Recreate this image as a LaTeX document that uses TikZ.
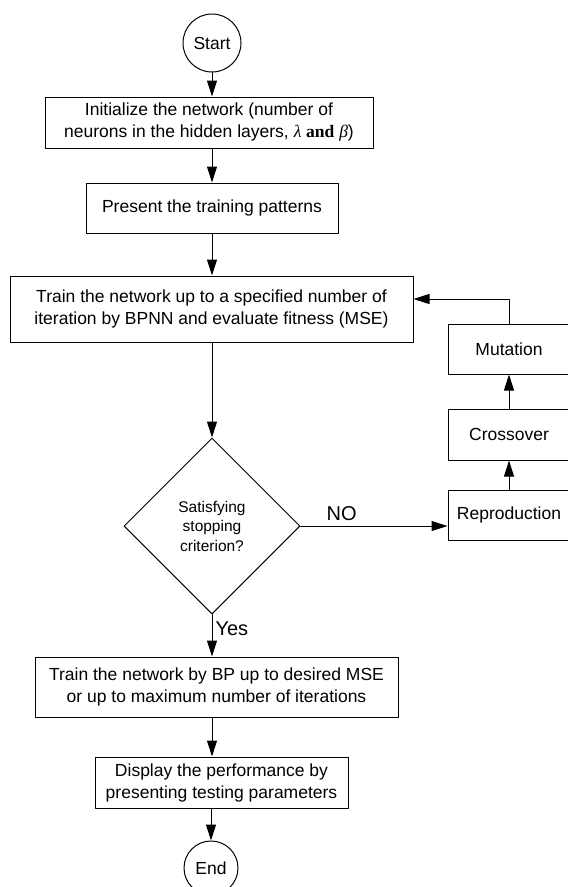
\documentclass[tikz,border=0pt]{standalone}
\usepackage{amsmath}
\usepackage{fontspec}
\setmainfont{Liberation Sans}
\newfontfamily\timesfont{Liberation Serif}
\usepackage{tikz}
\usetikzlibrary{arrows.meta,shapes.geometric,calc}

\begin{document}
\begin{tikzpicture}[line cap=round,line join=round,>={Triangle[length=16pt,width=10pt]},x=1pt,y=1pt,
  every node/.style={font=\fontsize{17.5}{22}\selectfont},
  procbox/.style={draw,line width=1pt,rectangle,align=center,inner sep=0pt},
  termnode/.style={draw,line width=1pt,circle,inner sep=0pt},
  decnode/.style={draw,line width=1pt,diamond,align=center,inner sep=0pt,minimum width=176pt,minimum height=176pt,font=\fontsize{15.5}{19.5}\selectfont},
  lbl/.style={font=\fontsize{20}{24}\selectfont,inner sep=2pt}]
\useasboundingbox (0,0) rectangle (568,-887);
% main column
\node[termnode,minimum size=58pt] (start) at (212,-43) {Start};
\node[procbox,minimum width=328pt,minimum height=51pt] (init) at (209,-122.5) {Initialize the network (number of\\neurons in the hidden layers, {\timesfont\itshape λ} {\timesfont\bfseries and} {\timesfont\itshape β})};
\node[procbox,minimum width=252pt,minimum height=50pt] (present) at (212,-208) {Present the training patterns};
\node[procbox,minimum width=403pt,minimum height=66pt] (trainga) at (211.5,-309) {Train the network up to a specified number of\\iteration by BPNN and evaluate fitness (MSE)};
\node[decnode] (decide) at (212,-526) {Satisfying\\stopping\\criterion?};
\node[procbox,minimum width=363pt,minimum height=60pt] (trainbp) at (216.5,-687) {Train the network by BP up to desired MSE\\or up to maximum number of iterations};
\node[procbox,minimum width=253pt,minimum height=51pt] (disp) at (221.5,-782.5) {Display the performance by\\presenting testing parameters};
\node[termnode,minimum size=54pt] (end) at (211,-868) {End};
% GA loop
\node[procbox,minimum width=122pt,minimum height=50pt] (repro) at (509,-515) {Reproduction};
\node[procbox,minimum width=122pt,minimum height=51pt] (cross) at (509,-434.5) {Crossover};
\node[procbox,minimum width=122pt,minimum height=50pt] (mut) at (509,-349) {Mutation};
\draw[->,line width=1pt] (start.south) -- (start.south |- init.north);
\draw[->,line width=1pt] (init.south -| start.south) -- (start.south |- present.north);
\draw[->,line width=1pt] (present.south) -- (present.south |- trainga.north);
\draw[->,line width=1pt] (trainga.south -| decide.north) -- (decide.north);
\draw[->,line width=1pt] (decide.east) -- (decide.east -| repro.west) node[lbl,pos=0.28,above=3pt] {NO};
\draw[->,line width=1pt] (repro.north) -- (cross.south);
\draw[->,line width=1pt] (cross.north) -- (mut.south);
\draw[->,line width=1pt] (mut.north) |- ([yshift=10pt]trainga.east);
\draw[->,line width=1pt] (decide.south) -- (decide.south |- trainbp.north) node[lbl,pos=0.35,right=1pt] {Yes};
\draw[->,line width=1pt] (trainbp.south -| decide.south) -- (decide.south |- disp.north);
\draw[->,line width=1pt] (disp.south -| end.north) -- (end.north);
\end{tikzpicture}
\end{document}
